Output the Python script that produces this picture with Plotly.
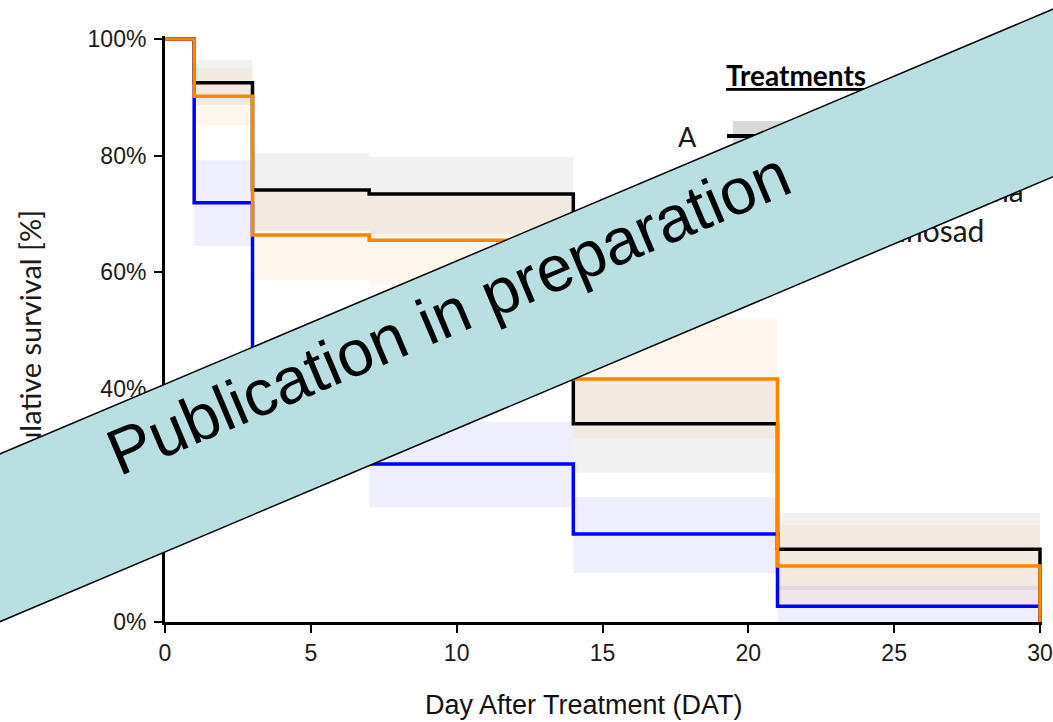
import plotly.graph_objects as go

# ---------------- data ----------------
times = [0, 1, 3, 7, 14, 21, 30]
surv_A = [100, 92.5, 74.1, 73.4, 34.0, 12.5, 0]
surv_B = [100, 71.9, 37.0, 27.1, 15.1, 2.7, 0]
surv_C = [100, 90.2, 66.4, 65.5, 41.7, 9.6, 0]

band_times = [1, 3, 7, 14, 21, 30]
A_lo = [88.7, 67.1, 66.5, 25.6, 5.5, 5.5]
A_hi = [96.4, 80.4, 79.8, 41.5, 18.7, 18.7]
B_lo = [64.5, 28.5, 19.7, 8.4, 0.0, 0.0]
B_hi = [79.2, 46.0, 34.3, 21.4, 6.2, 6.2]
C_lo = [85.2, 58.7, 57.8, 31.6, 3.0, 3.0]
C_hi = [95.0, 74.0, 73.0, 52.1, 16.6, 16.6]

x_ticks = [0, 5, 10, 15, 20, 25, 30]
y_ticks = [0, 20, 40, 60, 80, 100]
y_tick_labels = ["0%", "20%", "40%", "60%", "80%", "100%"]

legend_codes = ["A", "B", "C"]
legend_names = ["Control", "Beauveria bassiana", "Spinosad"]

series_colors = ["#000000", "#0000ff", "#ff8400"]
band_colors = ["rgba(0,0,0,0.055)", "rgba(0,0,255,0.065)", "rgba(255,128,0,0.07)"]
key_fill = ["#d9d9d9", "#dcdcf7", "#fde6cf"]

# ---------------- geometry helpers (figure pixel -> paper) ----------------
W, H = 1053, 722
ML, MR, MT, MB = 165, 11, 36, 100
PW, PH = W - ML - MR, H - MT - MB


def px(x):
    return (x - ML) / PW


def py(y):
    return (H - MB - y) / PH


fig = go.Figure()

# confidence bands
for lo, hi, col in [(A_lo, A_hi, band_colors[0]), (B_lo, B_hi, band_colors[1]), (C_lo, C_hi, band_colors[2])]:
    fig.add_trace(go.Scatter(x=band_times, y=hi, mode="lines", line=dict(width=0, shape="hv"),
                             hoverinfo="skip", showlegend=False))
    fig.add_trace(go.Scatter(x=band_times, y=lo, mode="lines", line=dict(width=0, shape="hv"),
                             fill="tonexty", fillcolor=col, hoverinfo="skip", showlegend=False))

# survival step lines
for s, col, name in [(surv_A, series_colors[0], legend_codes[0]),
                     (surv_B, series_colors[1], legend_codes[1]),
                     (surv_C, series_colors[2], legend_codes[2])]:
    fig.add_trace(go.Scatter(x=times, y=s, mode="lines", name=name,
                             line=dict(color=col, width=3.5, shape="hv"), showlegend=False))

axis_font = dict(family="Liberation Sans, Arial", size=23, color="#1a1a1a")
fig.update_xaxes(range=[0, PW / (875 / 30)], tickvals=x_ticks, ticks="outside", ticklen=8, tickwidth=2,
                 tickcolor="black", showline=True, linewidth=3, linecolor="black", automargin=False,
                 showgrid=False, zeroline=False, tickfont=axis_font)
fig.update_yaxes(range=[0, PH / 5.83], tickvals=y_ticks, ticktext=y_tick_labels, ticks="outside", ticklen=8,
                 tickwidth=2, tickcolor="black", showline=True, linewidth=3, linecolor="black",
                 automargin=False, showgrid=False, zeroline=False, tickfont=axis_font,
                 ticklabelstandoff=3)

# legend keys (shapes)
shapes = []
key_rows = [136, 190, 230]
for i, yc in enumerate(key_rows):
    shapes.append(dict(type="rect", xref="paper", yref="paper", layer="above",
                       x0=px(733), x1=px(795), y0=py(yc - 15), y1=py(yc + 16),
                       fillcolor=key_fill[i], line=dict(width=0)))
    shapes.append(dict(type="line", xref="paper", yref="paper", layer="above",
                       x0=px(727), x1=px(797), y0=py(yc), y1=py(yc),
                       line=dict(color=series_colors[i], width=4)))

annotations = []
lfont = "Lato, Carlito, sans-serif"
# legend title
annotations.append(dict(text="<b><u>Treatments</u></b>", x=px(795.5), y=py(75), xref="paper", yref="paper",
                        xanchor="center", yanchor="middle", showarrow=False,
                        font=dict(family=lfont, size=28, color="black")))
for i, yc in enumerate(key_rows):
    annotations.append(dict(text=legend_codes[i], x=px(687), y=py(yc), xref="paper", yref="paper",
                            xanchor="center", yanchor="middle", showarrow=False,
                            font=dict(family=lfont, size=27, color="#1a1a1a")))
name_right = [1010, 1026, 986]
for i, yc in enumerate(key_rows):
    annotations.append(dict(text=legend_names[i], x=px(name_right[i]), y=py(yc), xref="paper", yref="paper",
                            xanchor="right", yanchor="middle", showarrow=False,
                            font=dict(family=lfont, size=30, color="#1a1a1a")))
# axis titles
annotations.append(dict(text="Day After Treatment (DAT)", x=px(583.5), y=py(705), xref="paper", yref="paper",
                        xanchor="center", yanchor="middle", showarrow=False,
                        font=dict(family="Liberation Sans, Arial", size=27, color="#111111")))
annotations.append(dict(text="Cumulative survival [%]", x=px(29.5), y=py(208), xref="paper", yref="paper",
                        xanchor="center", yanchor="top", textangle=-90, showarrow=False,
                        font=dict(family=lfont, size=29, color="#1a1a1a")))
# banner (drawn last -> on top)
annotations.append(dict(text="Publication in preparation", x=px(461), y=py(343), xref="paper", yref="paper",
                        xanchor="center", yanchor="middle", showarrow=False, textangle=-22.9,
                        width=1800, height=137.5, valign="top", align="center",
                        bgcolor="#b9dfe3", bordercolor="black", borderwidth=1.5, borderpad=7.6,
                        font=dict(family="Liberation Sans, Arial", size=65, color="black")))

fig.update_layout(width=W, height=H, margin=dict(l=ML, r=MR, t=MT, b=MB),
                  paper_bgcolor="white", plot_bgcolor="white", showlegend=False,
                  shapes=shapes, annotations=annotations)

fig.write_html("out.html")
